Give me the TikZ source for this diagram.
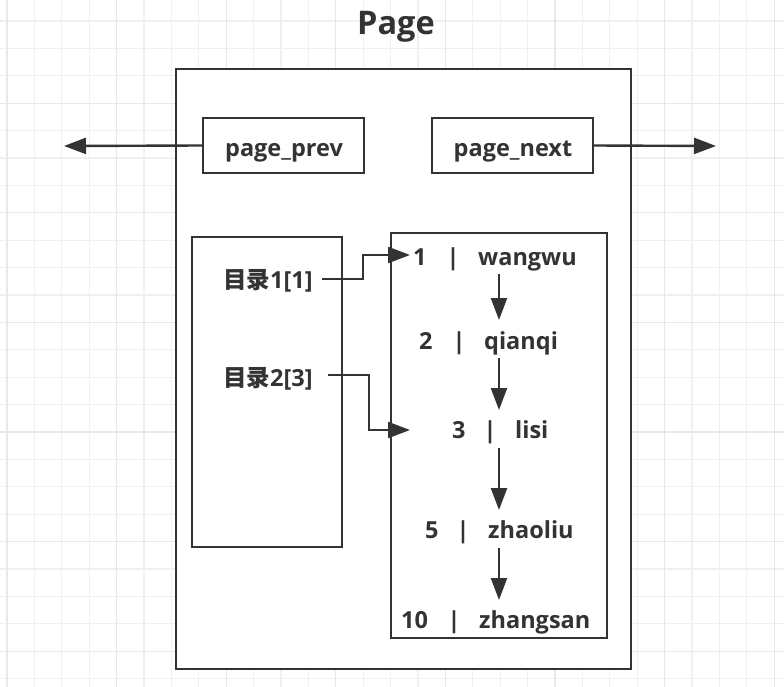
\documentclass[tikz,border=0pt]{standalone}
\usepackage{fontspec}
\setmainfont{Open Sans}
\newfontfamily\cjk{Noto Sans CJK SC}
\usetikzlibrary{arrows.meta}
\definecolor{ink}{HTML}{333333}
\definecolor{gridc}{HTML}{F0F0F0}
\definecolor{gridm}{HTML}{E8E8E8}
\tikzset{
  ln/.style={draw=ink, line width=2.4pt},
  boxn/.style={ln, fill=white, inner sep=0pt, rectangle},
  txt/.style={inner sep=0pt, text=ink, font=\bfseries\fontsize{23.5}{28}\selectfont},
  arr/.style={draw=ink, line width=2.4pt, -{Triangle[length=22pt,width=16pt]}},
  gridl/.style={draw=gridc, line width=1.2pt},
  gridmaj/.style={draw=gridm, line width=1.3pt}
}
\begin{document}
\begin{tikzpicture}[x=1pt,y=-1pt]
\useasboundingbox (0,0) rectangle (784,687);
\fill[white] (0,0) rectangle (784,687);
\foreach \i in {0,...,28} \draw[gridl] ({7+27.4*\i},0) -- ({7+27.4*\i},687);
\foreach \i in {0,...,24} \draw[gridl] (0,{21+27.4*\i}) -- (784,{21+27.4*\i});
\foreach \i in {0,4,...,28} \draw[gridmaj] ({7+27.4*\i},0) -- ({7+27.4*\i},687);
\foreach \i in {3,7,...,23} \draw[gridmaj] (0,{21+27.4*\i}) -- (784,{21+27.4*\i});

% title
\node[txt, anchor=base, font=\bfseries\fontsize{32.5}{38}\selectfont] (title) at (396,35) {Page};

% boxes
\node[boxn, minimum width=455pt, minimum height=600pt] (page) at (403.5,369) {};
\node[boxn, minimum width=161pt, minimum height=55pt] (prev) at (283.5,145.5) {};
\node[boxn, minimum width=161pt, minimum height=55pt] (next) at (512.5,145.5) {};
\node[boxn, minimum width=150pt, minimum height=310pt] (dir) at (267,392) {};
\node[boxn, minimum width=216pt, minimum height=405pt] (list) at (499,435.5) {};

\node[txt, anchor=base] (tprev) at (284,157) {page\_prev};
\node[txt, anchor=base] (tnext) at (513,157) {page\_next};

% directory entries
\node[txt, anchor=base west] (d1) at (223,288) {{\cjk 目录}1[1]};
\node[txt, anchor=base west] (d2) at (223,386) {{\cjk 目录}2[3]};

% list entries
\node[txt, anchor=base west] (n1) at (413,265) {1};
\node[txt, anchor=base] (b1) at (453,265) {|};
\node[txt, anchor=base west] (w1) at (478,265) {wangwu};
\node[txt, anchor=base west] (n2) at (419,349) {2};
\node[txt, anchor=base] (b2) at (459,349) {|};
\node[txt, anchor=base west] (w2) at (484,349) {qianqi};
\node[txt, anchor=base west] (n3) at (452,438) {3};
\node[txt, anchor=base] (b3) at (490,438) {|};
\node[txt, anchor=base west] (w3) at (515,438) {lisi};
\node[txt, anchor=base west] (n4) at (425,538) {5};
\node[txt, anchor=base] (b4) at (463,538) {|};
\node[txt, anchor=base west] (w4) at (488,538) {zhaoliu};
\node[txt, anchor=base west] (n5) at (401,628) {10};
\node[txt, anchor=base] (b5) at (454,628) {|};
\node[txt, anchor=base west] (w5) at (479,628) {zhangsan};

% connector ends
\coordinate (lt) at (64,146);
\coordinate (rt) at (716,146);
\coordinate (s1) at (322,279);
\coordinate (s2) at (328,375);
\coordinate (t1) at (410,255);
\coordinate (t2) at (410,430);
\coordinate (a1) at (499,274); \coordinate (a2) at (499,320);
\coordinate (a3) at (499,358); \coordinate (a4) at (499,410);
\coordinate (a5) at (499,448); \coordinate (a6) at (499,510);
\coordinate (a7) at (499,548); \coordinate (a8) at (499,600);

\draw[arr] (prev.west) -- (lt);
\draw[arr] (next.east) -- (rt);
\draw[arr] (s1) -- ++(41,0) |- (t1);
\draw[arr] (s2) -- ++(41,0) |- (t2);
\draw[arr] (a1) -- (a2);
\draw[arr] (a3) -- (a4);
\draw[arr] (a5) -- (a6);
\draw[arr] (a7) -- (a8);
\end{tikzpicture}
\end{document}
